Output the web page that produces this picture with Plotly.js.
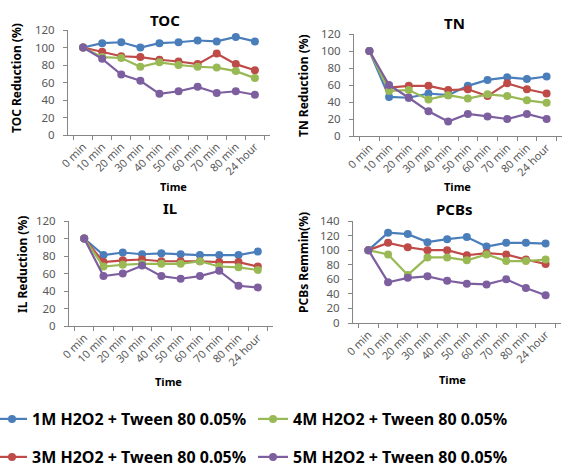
<!DOCTYPE html>
<html><head><meta charset="utf-8">
<script src="https://cdn.plot.ly/plotly-3.0.1.min.js"></script>
<style>body{margin:0;background:#fff}#c{width:568px;height:471px}</style>
</head><body><div id="c"></div>
<script>
const times = ["0 min","10 min","20 min","30 min","40 min","50 min","60 min","70 min","80 min","24 hour"];
const seriesNames = ["1M H2O2 + Tween 80 0.05%","3M H2O2 + Tween 80 0.05%","4M H2O2 + Tween 80 0.05%","5M H2O2 + Tween 80 0.05%"];
const colors = ["#4a7ebb","#be4b48","#98b954","#7d5fa0"];

const toc1M = [100,105,106,100,105,106,108,107,112,107];
const toc3M = [100,95,90,89,86,84,81,93,81,74];
const toc4M = [100,89,88,78,83,80,78,77,73,65];
const toc5M = [100,87,69,62,47,50,55,48,50,46];

const tn1M = [100,46,45,50,48,59,66,69,67,70];
const tn3M = [100,57,59,59,54,55,47,62,55,50];
const tn4M = [100,53,54,43,48,44,49,47,42,39];
const tn5M = [100,60,45,29,17,26,23,20,26,20];

const il1M = [100,81,84,82,83,82,81,81,81,85];
const il3M = [100,73,75,76,74,74,74,73,73,68];
const il4M = [100,68,70,71,71,71,74,68,67,64];
const il5M = [100,57,60,69,57,54,57,63,46,44];

const pcb1M = [100,124,122,111,115,118,105,110,110,109];
const pcb3M = [100,110,104,100,100,93,96,94,87,81];
const pcb4M = [100,94,66,90,90,86,94,85,85,87];
const pcb5M = [100,56,62,64,58,54,53,60,48,38];

const panels = [
  {title:"TOC", ytitle:"TOC Reduction (%)", data:[toc1M,toc3M,toc4M,toc5M], ymax:120},
  {title:"TN", ytitle:"TN Reduction (%)", data:[tn1M,tn3M,tn4M,tn5M], ymax:120},
  {title:"IL", ytitle:"IL Reduction (%)", data:[il1M,il3M,il4M,il5M], ymax:120},
  {title:"PCBs", ytitle:"PCBs Remmin(%)", data:[pcb1M,pcb3M,pcb4M,pcb5M], ymax:140}
];

const W=568, H=471;
const boxes = [[68,270,30,135],[354,562,34,136],[69,273,221,326],[353,561,221,323]];
const titlePos = [[165,20],[454,23],[170,208],[454,209]];
const ytitlePos = [[17,78],[304,86],[22,265],[303,263]];
const xtitlePos = [[173,186],[457,186],[168,381],[452,379]];

const legFont = {size:16,color:"#000",family:"Noto Sans, sans-serif",weight:"bold"};
function leg(xpx,ypx){return {orientation:"h",x:xpx/W,xanchor:"left",y:1-ypx/H,yanchor:"middle",
  font:legFont,itemwidth:30,bgcolor:"rgba(0,0,0,0)",borderwidth:0};}
const legendIds = ["legend","legend2","legend3","legend4"];
const legendPos = [[-8,419],[-8,457],[253,419],[253,457]];

const traces=[]; const layout={
  width:W,height:H,margin:{l:0,r:0,t:0,b:0,autoexpand:false},paper_bgcolor:"#fff",plot_bgcolor:"#fff",
  font:{family:"Noto Sans, DejaVu Sans, sans-serif",color:"#595959"},
  annotations:[]
};
legendIds.forEach((id,s)=>{layout[id]=leg(legendPos[s][0],legendPos[s][1]);});

panels.forEach((p,i)=>{
  const k = i===0?"":String(i+1);
  const b = boxes[i];
  layout["xaxis"+k]={domain:[b[0]/W,b[1]/W],anchor:"y"+k,type:"category",tickson:"boundaries",
    ticks:"outside",ticklen:4,tickcolor:"#868686",showline:true,linecolor:"#868686",linewidth:1,
    tickangle:-45,tickfont:{size:11,color:"#595959"},showgrid:false,zeroline:false,fixedrange:true,automargin:false};
  layout["yaxis"+k]={domain:[1-b[3]/H,1-b[2]/H],anchor:"x"+k,range:[0,p.ymax],dtick:20,
    ticks:"outside",ticklen:4,tickcolor:"#868686",showline:true,linecolor:"#868686",linewidth:1,
    ticklabelstandoff:6,tickfont:{size:11.5,color:"#595959"},showgrid:false,zeroline:false,fixedrange:true,automargin:false};
  p.data.forEach((vals,s)=>{
    traces.push({x:times,y:vals,xaxis:"x"+k,yaxis:"y"+k,type:"scatter",mode:"lines+markers",
      name:seriesNames[s],line:{color:colors[s],width:2.2},marker:{color:colors[s],size:8},
      showlegend:i===0,legend:legendIds[s]});
  });
  layout.annotations.push({text:"<b>"+p.title+"</b>",x:titlePos[i][0]/W,y:1-titlePos[i][1]/H,xref:"paper",yref:"paper",
    showarrow:false,font:{size:15,color:"#000"},xanchor:"center",yanchor:"middle"});
  layout.annotations.push({text:"<b>"+p.ytitle+"</b>",x:ytitlePos[i][0]/W,y:1-ytitlePos[i][1]/H,xref:"paper",yref:"paper",
    showarrow:false,textangle:-90,font:{size:12,color:"#000"},xanchor:"center",yanchor:"middle"});
  layout.annotations.push({text:"<b>Time</b>",x:xtitlePos[i][0]/W,y:1-xtitlePos[i][1]/H,xref:"paper",yref:"paper",
    showarrow:false,font:{size:11,color:"#000"},xanchor:"center",yanchor:"middle"});
});
Plotly.newPlot("c",traces,layout,{staticPlot:true});
</script></body></html>
